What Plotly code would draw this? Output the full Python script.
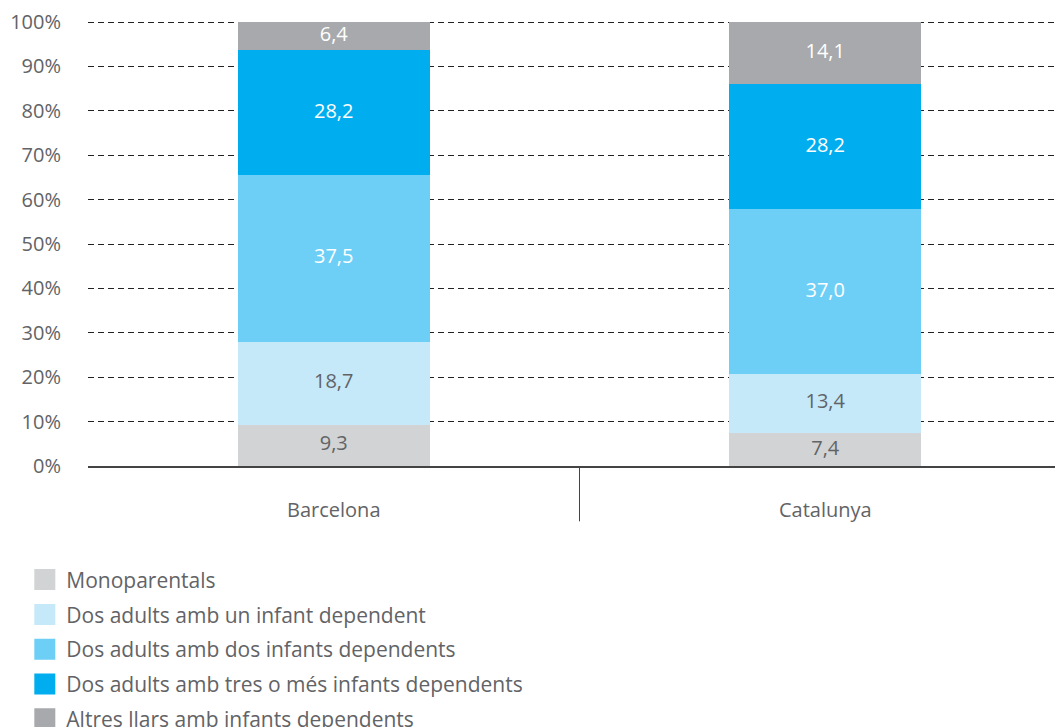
import plotly.graph_objects as go

regions = ["Barcelona", "Catalunya"]
series = [
    "Monoparentals",
    "Dos adults amb un infant dependent",
    "Dos adults amb dos infants dependents",
    "Dos adults amb tres o més infants dependents",
    "Altres llars amb infants dependents",
]
mono = [9.3, 7.4]
un_infant = [18.7, 13.4]
dos_infants = [37.5, 37.0]
tres_infants = [28.2, 28.2]
altres = [6.4, 14.1]
y_ticks = [0, 10, 20, 30, 40, 50, 60, 70, 80, 90, 100]
y_tick_text = [f"{v}%" for v in y_ticks]

colors = ["#d1d3d4", "#c6e9f9", "#6dcff6", "#00aeef", "#a7a9ac"]
grey_text = "#626366"
text_colors = [grey_text, grey_text, "white", "white", "white"]
font = "Open Sans"

fig = go.Figure()
base = [0.0] * len(regions)
for name, vals, col, tcol in zip(series, [mono, un_infant, dos_infants, tres_infants, altres],
                                 colors, text_colors):
    fig.add_trace(go.Bar(x=regions, y=vals, name=name, marker_color=col,
                         marker_line_width=0, cliponaxis=False, showlegend=False))
    # value labels in the middle of each segment (bar text hides the small ones)
    mids = [b + v / 2 for b, v in zip(base, vals)]
    fig.add_trace(go.Scatter(x=regions, y=mids, mode="text",
                             text=[f"{v:.1f}".replace(".", ",") for v in vals],
                             textposition="middle center", cliponaxis=False,
                             textfont=dict(color=tcol, size=20, family=font),
                             showlegend=False, hoverinfo="skip"))
    base = [b + v for b, v in zip(base, vals)]
    # legend entry with a bigger square
    fig.add_trace(go.Scatter(x=[None], y=[None], mode="markers", name=name,
                             legendgroup=name,
                             marker=dict(symbol="square", size=16, color=col,
                                         line=dict(color=col, width=5))))

# separator between categories
fig.add_shape(type="line", xref="x", yref="paper", x0=0.5, x1=0.5, y0=0, y1=-0.124,
              line=dict(color="#444444", width=1))

# page body adds an 8px offset, so margins are trimmed by 8
fig.update_layout(
    width=1063, height=727,
    barmode="stack", bargap=0.61,
    plot_bgcolor="white", paper_bgcolor="white",
    margin=dict(l=80, r=0, t=12, b=269, autoexpand=False),
    font=dict(family=font, size=20, color=grey_text),
    legend=dict(x=-0.0658, y=-0.2095, xanchor="left", yanchor="top",
                traceorder="grouped", tracegroupgap=4.5, itemsizing="trace",
                itemwidth=33,
                font=dict(size=21, color=grey_text, family=font)),
    xaxis=dict(showline=True, linecolor="#444444", linewidth=1.5, ticks="",
               ticklabelstandoff=25, showgrid=False),
    yaxis=dict(range=[0, 100.45], tickvals=y_ticks, ticktext=y_tick_text,
               showgrid=True, gridcolor="#222222", griddash="6px,4px", gridwidth=1,
               zeroline=False, ticklabelstandoff=26, fixedrange=True),
)

fig.write_html("out.html")
